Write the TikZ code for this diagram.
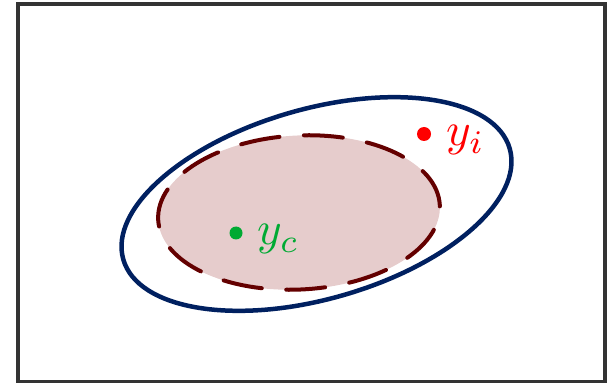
\documentclass[tikz,border=0pt]{standalone}
\usepackage{xcolor}
\usepackage{graphicx}
\definecolor{navy}{HTML}{002060}
\definecolor{darkred}{HTML}{640000}
\definecolor{pinkfill}{HTML}{E6CCCC}
\definecolor{myred}{HTML}{FF0000}
\definecolor{mygreen}{HTML}{00AA33}
\definecolor{framegray}{HTML}{333333}
\tikzset{
  frame/.style={draw=framegray, line width=3.5pt},
  outerell/.style={draw=navy, line width=4.5pt},
  innerell/.style={draw=darkred, fill=pinkfill, line width=4pt, line cap=round, dash pattern=on 39pt off 24.5pt},
  lbl/.style={anchor=base west, inner sep=0pt},
}
\begin{document}
\begin{tikzpicture}[x=1pt,y=1pt]
\useasboundingbox (0,0) rectangle (615,383);
\draw[frame] (18,1.5) rectangle (605,379);
\draw[innerell] (299,170.5) ellipse[x radius=141, y radius=77, rotate=3];
\draw[outerell] (316.5,179) ellipse[x radius=201, y radius=95, rotate=16];
\fill[myred] (424,249) circle (7) coordinate (yi);
\fill[mygreen] (236,150) circle (6.5) coordinate (yc);
\node[lbl, text=myred] (li) at (446,237) {\scalebox{4.7}{$y_i$}};
\node[lbl, text=mygreen] (lc) at (257,138) {\scalebox{4.7}{$y_c$}};
\end{tikzpicture}
\end{document}
